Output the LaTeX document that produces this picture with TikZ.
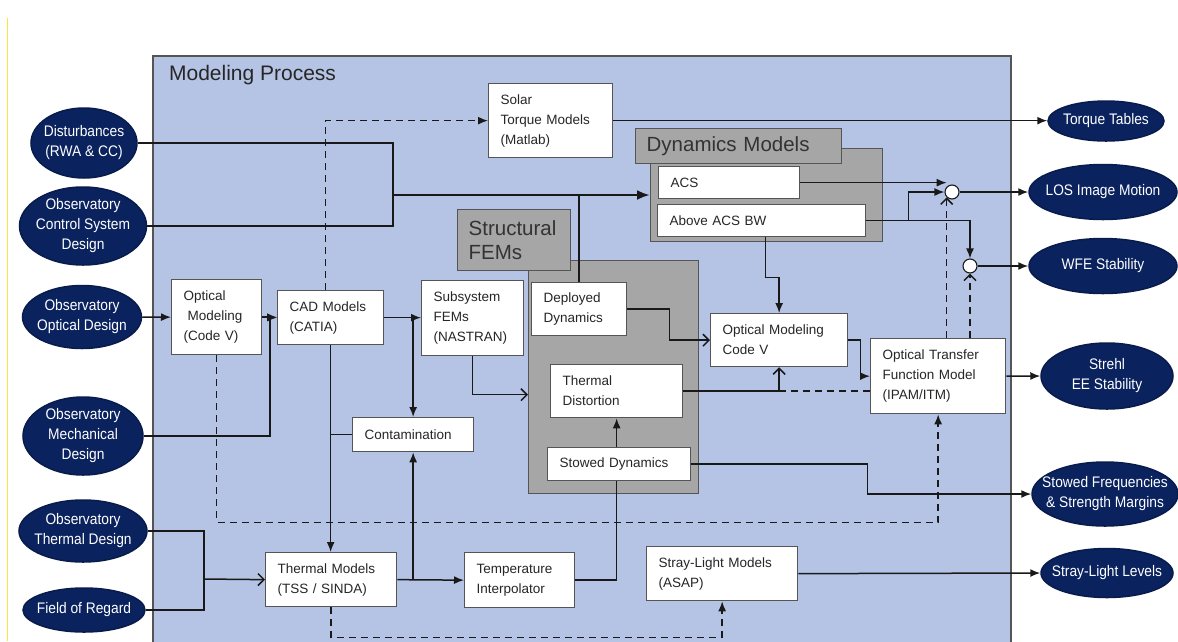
\documentclass[tikz,border=0pt]{standalone}
\usepackage{fontspec}
\setmainfont{Liberation Sans}
\newfontfamily\ovalfont[FakeStretch=0.9]{Liberation Sans}
\usetikzlibrary{shapes.geometric, arrows.meta, positioning}

\definecolor{procblue}{RGB}{181,196,228}
\definecolor{ovalblue}{RGB}{10,34,94}
\definecolor{boxgray}{RGB}{166,166,166}
\definecolor{edgegray}{RGB}{85,85,85}
\definecolor{inkline}{RGB}{25,25,25}
\definecolor{marginyellow}{RGB}{250,230,60}

\begin{document}
\begin{tikzpicture}[x=1pt, y=-1pt, line width=1.5pt, >={Latex[length=10pt,width=8pt]},
	oval/.style={ellipse, fill=ovalblue, draw=ovalblue!80!black, inner sep=0pt},
	ovaltext/.style={text=white, align=center, inner sep=0pt, font=\ovalfont\fontsize{15.3}{20}\selectfont},
	box/.style={draw=edgegray, fill=white, line width=1.3pt, anchor=north west, align=left, inner xsep=12pt, font=\fontsize{13.5}{20}\selectfont, text=black!85},
	grp/.style={draw=edgegray, fill=boxgray, line width=1.3pt, anchor=north west},
	grplabel/.style={grp, align=left, inner xsep=11pt, font=\fontsize{20.5}{24}\selectfont, text=black!80},
	sum/.style={circle, draw=inkline, fill=white, minimum size=14pt, inner sep=0pt, line width=1.1pt},
	link/.style={draw=inkline, line width=1.5pt},
	dashline/.style={link, dash pattern=on 7pt off 5pt},
	barb/.style={-{Straight Barb[length=6pt,width=12pt]}}]

	\useasboundingbox (0,0) rectangle (1178,641);
	\draw[marginyellow, line width=1pt] (7,18) -- (7,641);

	\node[draw=edgegray, fill=procblue, line width=1.6pt, anchor=north west, minimum width=858pt, minimum height=610pt] (proc) at (152,55) {};
	\node[anchor=base west, font=\fontsize{21}{25}\selectfont, text=black!85] (title) at (165,80) {Modeling Process};

	\node[grp, minimum width=232pt, minimum height=93pt] (dynBack) at (650,148) {};
	\node[grplabel, text width=184pt, minimum height=35pt] (dynLbl) at (635,128) {Dynamics Models};
	\node[grp, minimum width=170pt, minimum height=233pt] (strBack) at (528,260) {};
	\node[grplabel, text width=91pt, minimum height=61pt] (strLbl) at (457,209) {Structural\\FEMs};

	\node[box, text width=100pt, minimum height=74pt] (solar) at (488,83) {Solar\\Torque Models\\(Matlab)};
	\node[box, text width=117pt, minimum height=32pt] (acs) at (658,166) {ACS};
	\node[box, text width=184pt, minimum height=32pt] (above) at (657,204) {Above ACS BW};
	\node[box, text width=66pt, minimum height=75pt] (optL) at (171,279) {Optical\\\hspace*{4pt}Modeling\\(Code V)};
	\node[box, text width=82pt, minimum height=54pt] (cad) at (277,290) {CAD Models\\(CATIA)};
	\node[box, text width=78pt, minimum height=75pt] (subfem) at (421,280) {Subsystem\\FEMs\\(NASTRAN)};
	\node[box, text width=97pt, minimum height=34pt] (contam) at (352,417) {Contamination};
	\node[box, text width=71pt, minimum height=53pt] (dep) at (531,282) {Deployed\\Dynamics};
	\node[box, text width=108pt, minimum height=53pt] (thDist) at (550,364) {Thermal\\Distortion};
	\node[box, text width=119pt, minimum height=33pt] (stowed) at (547,447) {Stowed Dynamics};
	\node[box, text width=113pt, minimum height=53pt] (omR) at (710,313) {Optical Modeling\\Code V};
	\node[box, text width=111pt, minimum height=75pt] (otf) at (870,338) {Optical Transfer\\Function Model\\(IPAM/ITM)};
	\node[box, text width=107pt, minimum height=54pt] (thermM) at (265,552) {Thermal Models\\(TSS / SINDA)};
	\node[box, text width=86pt, minimum height=55pt] (tempI) at (464,552) {Temperature\\Interpolator};
	\node[box, text width=127pt, minimum height=54pt] (stray) at (646,546) {Stray-Light Models\\(ASAP)};

	\node[sum] (sum1) at (952,192) {};
	\node[sum] (sum2) at (970,266) {};

	\node[oval, minimum width=106pt, minimum height=70pt, label={[ovaltext]center:{Disturbances\\(RWA \& CC)}}] (dist) at (84,143) {};
	\node[oval, minimum width=127pt, minimum height=78pt, label={[ovaltext]center:{Observatory\\Control System\\Design}}] (ctrl) at (83,226) {};
	\node[oval, minimum width=119pt, minimum height=63pt, label={[ovaltext]center:{Observatory\\Optical Design}}] (optD) at (82,317) {};
	\node[oval, minimum width=120pt, minimum height=78pt, label={[ovaltext]center:{Observatory\\Mechanical\\Design}}] (mech) at (83,436) {};
	\node[oval, minimum width=128pt, minimum height=62pt, label={[ovaltext]center:{Observatory\\Thermal Design}}] (thD) at (83,531) {};
	\node[oval, minimum width=122pt, minimum height=44pt, label={[ovaltext]center:{Field of Regard}}] (foR) at (84,610) {};
	\node[oval, minimum width=116pt, minimum height=40pt, label={[ovaltext]center:{Torque Tables}}] (torque) at (1106,121) {};
	\node[oval, minimum width=148pt, minimum height=55pt, label={[ovaltext]center:{LOS Image Motion}}] (los) at (1103,192) {};
	\node[oval, minimum width=148pt, minimum height=55pt, label={[ovaltext]center:{WFE Stability}}] (wfe) at (1103,266) {};
	\node[oval, minimum width=132pt, minimum height=66pt, label={[ovaltext]center:{Strehl\\EE Stability}}] (strehl) at (1107,376) {};
	\node[oval, minimum width=146pt, minimum height=64pt, label={[ovaltext]center:{Stowed Frequencies\\\& Strength Margins}}] (stowF) at (1105,494) {};
	\node[oval, minimum width=132pt, minimum height=49pt, label={[ovaltext]center:{Stray-Light Levels}}] (strayL) at (1107,573) {};

	\coordinate (dj) at (393,195);
	\coordinate (tj) at (204,579);

	\draw[link] (dist.east) -| (dj);
	\draw[link] (ctrl.east) -| (dj);
	\draw[link] (dep.north) -- (dep.north |- dj);
	\draw[link, line width=2.6pt, -{Latex[length=13pt,width=10pt]}] (dj) -- (dj -| dynBack.west);

	\draw[dashline, ->] ([xshift=-5pt]cad.north) |- (solar.west);
	\draw[link, ->] (solar.east) -- (solar.east -| torque.west);

	\draw[link, ->] (acs.east) -- (acs.east -| sum1.north west);
	\draw[link, ->] (above.east) -- ++(42,0) |- (sum1.west);
	\draw[link, ->] (above.east) -| (sum2.north);
	\draw[link, ->] (sum1.east) -- (los.west);
	\draw[link, ->] (sum2.east) -- (wfe.west);
	\draw[dashline, barb] (otf.north -| sum1.south west) -- (sum1.south west);
	\draw[dashline, barb] (otf.north -| sum2.south) -- (sum2.south);

	\draw[link, ->] ([xshift=4pt]above.south) -- ++(0,40) -| (omR.north);
	\draw[link, barb] (dep.east) -- ++(42,0) |- (omR.west);
	\draw[link, barb] (subfem.south) |- ([yshift=-17.5pt]strBack.west);
	\draw[link, barb] (thDist.east) -| (omR.south);
	\draw[dashline] (thDist.east -| omR.south) -- (thDist.east -| otf.west);
	\draw[link, ->] (omR.east) -- ++(12,0) |- (otf.west);
	\draw[link, ->] (otf.east) -- (strehl.west);

	\draw[link, ->] (stowed.north -| thDist.south) -- (thDist.south);
	\draw[link] (tempI.east) -| (stowed.south -| thDist.south);
	\draw[link, ->] (stowed.east) -- ++(176,0) |- (stowF.west);
	\draw[link, ->] (stray.east) -- (strayL.west);

	\draw[link, ->] (optD.east) -- (optL.west);
	\draw[link, ->] (optL.east) -- (optL.east -| cad.west);
	\draw[link, ->] (mech.east) -| ([xshift=-7pt]cad.west) -- (cad.west);
	\draw[link, ->] (cad.east) -- (cad.east -| subfem.west);
	\draw[link, ->] (contam.north |- cad.east) -- (contam.north);
	\draw[link, ->] (cad.south) -- (cad.south |- thermM.north);
	\draw[link] (contam.west) -- (contam.west -| cad.south);
	\draw[link] (thD.east) -| (tj);
	\draw[link] (foR.east) -| (tj);
	\draw[link, barb] (tj) -- (thermM.west);
	\draw[link, ->] (thermM.east) -- (tempI.west);
	\draw[link, ->] (contam.south |- thermM.east) -- (contam.south);
	\draw[dashline, ->] (optL.south) -- ++(0,167) -| (otf.south);
	\draw[dashline, ->] (thermM.south) -- ++(0,30) -| (stray.south);

\end{tikzpicture}
\end{document}
